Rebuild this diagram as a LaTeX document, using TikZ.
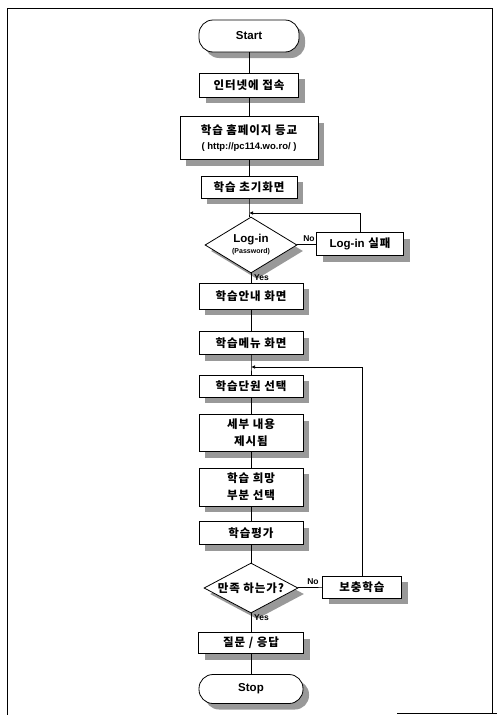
\documentclass[tikz,border=0pt]{standalone}
\usepackage{fontspec}
\setmainfont{Liberation Sans}
\newfontfamily\kr[LetterSpace=8]{Noto Sans CJK KR}
\usetikzlibrary{shapes.geometric,shadows,arrows.meta}
\begin{document}
\begin{tikzpicture}[x=1pt,y=-1pt,
  shad/.style={drop shadow={shadow xshift=6pt,shadow yshift=-6pt,fill=black!40,opacity=1}},
  box/.style={draw,line width=0.8pt,fill=white,shad,inner sep=0pt,align=center,font=\kr\bfseries\fontsize{11.5}{17}\selectfont},
  term/.style={box,rounded corners=14pt,font=\bfseries\fontsize{11.5}{13}\selectfont},
  deci/.style={diamond,draw,line width=0.8pt,fill=white,shad,inner sep=0pt,align=center,aspect=1.7},
  lbl/.style={font=\bfseries\fontsize{8.5}{9}\selectfont,inner sep=0pt},
  line/.style={line width=0.7pt},
  arr/.style={line,-{Latex[length=4pt,width=3.5pt]}}]
\useasboundingbox (0,0) rectangle (497,715);
% frame
\draw[line width=0.7pt] (7,715) -- (7,8) -- (492,8) -- (492,713);
\draw[line width=0.7pt] (397,713) -- (497,713);
% nodes
\node[term,minimum width=100pt,minimum height=32pt] (start) at (249,36) {Start};
\node[box,minimum width=99pt,minimum height=24pt] (inet) at (249,85) {인터넷에 접속};
\node[box,minimum width=138pt,minimum height=43pt] (home) at (249,138) {학습 홈페이지 등교\\[-2pt]{\rmfamily\bfseries\fontsize{9.5}{11}\selectfont ( http://pc114.wo.ro/ )}};
\node[box,minimum width=96pt,minimum height=22pt] (init) at (249,187) {학습 초기화면};
\coordinate (j1) at (249,213);
\node[deci,minimum width=92pt,minimum height=56pt] (login) at (251,245) {\bfseries\fontsize{11.5}{11}\selectfont Log-in\\[-1pt]{\bfseries\fontsize{7}{8}\selectfont (Password)}};
\node[box,minimum width=87pt,minimum height=23pt] (fail) at (360,244) {{\rmfamily Log-in} 실패};
\node[box,minimum width=104pt,minimum height=26pt] (guide) at (251,296) {학습안내 화면};
\node[box,minimum width=104pt,minimum height=23pt] (menu) at (251,343) {학습메뉴 화면};
\coordinate (j2) at (251,367);
\node[box,minimum width=104pt,minimum height=22pt] (unit) at (251,386) {학습단원 선택};
\node[box,minimum width=104pt,minimum height=37pt] (detail) at (251,433) {세부 내용\\제시됨};
\node[box,minimum width=104pt,minimum height=38pt] (part) at (251,487) {학습 희망\\부분 선택};
\node[box,minimum width=104pt,minimum height=23pt] (eval) at (251,533) {학습평가};
\node[deci,minimum width=94pt,minimum height=50pt,font=\kr\bfseries\fontsize{11.5}{13}\selectfont] (sat) at (251,588) {만족 하는가?};
\node[box,minimum width=79pt,minimum height=22pt] (supp) at (362,587) {보충학습};
\node[box,minimum width=105pt,minimum height=21pt] (qa) at (251,643) {질문 / 응답};
\node[term,minimum width=104pt,minimum height=29pt] (stop) at (251,689) {Stop};
% connectors
\draw[line] (start) -- (inet);
\draw[line] (inet) -- (home);
\draw[line] (home) -- (init);
\draw[line] (init.south) -- (j1) -- (j1 |- login.north);
\draw[line] (login) -- (fail);
\draw[arr] (fail.north) |- (j1);
\draw[line] (login.south) -- (guide.north -| login.south);
\draw[line] (guide) -- (menu);
\draw[line] (menu.south) -- (j2) -- (unit.north);
\draw[line] (unit) -- (detail);
\draw[line] (detail) -- (part);
\draw[line] (part) -- (eval);
\draw[line] (eval) -- (sat);
\draw[line] (sat) -- (supp);
\draw[arr] (supp.north) |- (j2);
\draw[line] (sat) -- (qa);
\draw[line] (qa) -- (stop);
% labels
\node[lbl,anchor=south] at (309,242) {No};
\node[lbl,anchor=north west] at (254,274) {Yes};
\node[lbl,anchor=south] at (313,585) {No};
\node[lbl,anchor=north west] at (254,614) {Yes};
\end{tikzpicture}
\end{document}
